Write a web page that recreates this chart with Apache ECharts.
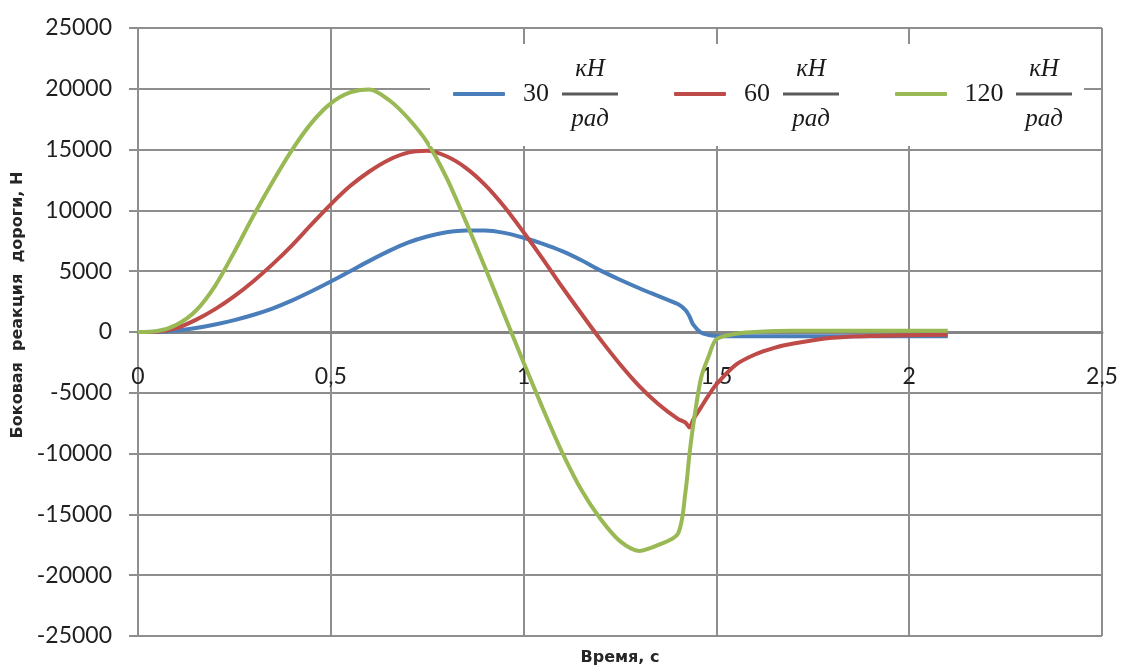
<!DOCTYPE html>
<html>
<head>
<meta charset="utf-8">
<title>Боковая реакция дороги</title>
<script src="https://cdn.jsdelivr.net/npm/echarts@6/dist/echarts.min.js"></script>
<style>
  html, body { margin: 0; padding: 0; background: #fff; }
  #chart { width: 1123px; height: 669px; }
</style>
</head>
<body>
<div id="chart"></div>
<script>
// Время, с
const times = [0, 0.05, 0.1, 0.15, 0.2, 0.25, 0.3, 0.35, 0.4, 0.45, 0.5, 0.55, 0.6, 0.65, 0.7, 0.75,
  0.8, 0.85, 0.9, 0.95, 1.0, 1.05, 1.1, 1.15, 1.2, 1.25, 1.3, 1.35, 1.4, 1.42, 1.43, 1.44, 1.46,
  1.48, 1.5, 1.55, 1.6, 1.65, 1.7, 1.8, 1.9, 2.0, 2.1];

// Боковая реакция, Н — по жёсткости 30, 60, 120 кН/рад
const vals30 = [0, 30, 130, 330, 620, 980, 1420, 1950, 2600, 3350, 4150, 5000, 5850, 6650, 7350, 7850,
  8200, 8350, 8350, 8150, 7750, 7250, 6650, 5900, 5050, 4300, 3600, 2950, 2300, 1800, 1300, 600, -50,
  -250, -320, -350, -350, -350, -350, -350, -350, -350, -350];
const vals60 = [0, 30, 330, 1000, 1880, 2950, 4200, 5600, 7150, 8850, 10500, 12000, 13200, 14150, 14750, 14900,
  14450, 13500, 12100, 10300, 8200, 6000, 3700, 1500, -650, -2650, -4450, -5950, -7150, -7450, -7850, -7200, -6200,
  -5200, -4300, -2700, -1850, -1300, -950, -480, -330, -260, -220];
const vals120 = [0, 80, 600, 1750, 3800, 6600, 9600, 12400, 15000, 17200, 18800, 19700, 19950, 19100, 17600, 15600,
  12700, 9100, 5300, 1400, -2500, -6300, -9900, -13000, -15400, -17200, -18000, -17500, -16600, -13100, -10100, -7650, -3800,
  -2000, -600, -150, 0, 80, 100, 100, 100, 100, 100];

const seriesNames = ["30", "60", "120"];
const seriesValues = [vals30, vals60, vals120];
const seriesColors = ["#4a7ebb", "#be4b48", "#98b954"];

// Оси
const xMin = 0, xMax = 2.5, xStep = 0.5;
const yMin = -25000, yMax = 25000, yStep = 5000;

const gridColor = "#8e8e8e";

// Подпись легенды: число + дробь кН/рад
function legendText(name) {
  const k = name.length > 2 ? "3" : "2";
  return "{a" + k + "|}{t|кН}\n{n" + k + "|" + name + "}{b|}\n{a" + k + "|}{t|рад}";
}

const chart = echarts.init(document.getElementById("chart"), null, { renderer: "canvas" });

const option = {
  animation: false,
  backgroundColor: "#ffffff",
  grid: { left: 138, right: 21, top: 28, bottom: 33, containLabel: false, outerBoundsMode: "none" },
  legend: {
    data: seriesNames,
    left: 430,
    top: 44,
    padding: [12, 12, 14, 23],
    itemGap: 56,
    itemWidth: 52,
    itemHeight: 4,
    icon: "roundRect",
    backgroundColor: "#ffffff",
    formatter: legendText,
    textStyle: {
      fontFamily: "Liberation Serif",
      fontSize: 26,
      color: "#1a1a1a",
      rich: {
        a2: { width: 52 },
        a3: { width: 64 },
        n2: { width: 52, align: "center", fontFamily: "Liberation Serif", fontSize: 26, lineHeight: 24, color: "#1a1a1a" },
        n3: { width: 64, align: "center", fontFamily: "Liberation Serif", fontSize: 26, lineHeight: 24, color: "#1a1a1a" },
        t: { width: 56, align: "center", fontFamily: "Liberation Serif", fontStyle: "italic", fontSize: 25, lineHeight: 22, color: "#1a1a1a" },
        b: { width: 56, height: 3, backgroundColor: "#5a5a5a" }
      }
    }
  },
  xAxis: {
    type: "value",
    min: xMin,
    max: xMax,
    interval: xStep,
    name: "Время, с",
    nameLocation: "middle",
    nameGap: 14,
    nameTextStyle: { fontFamily: "DejaVu Sans", fontWeight: "bold", fontSize: 16, color: "#262626" },
    axisLine: { onZero: true, lineStyle: { color: "#858585", width: 3 } },
    axisTick: { show: false },
    axisLabel: {
      margin: -271,
      fontFamily: "Lato",
      fontSize: 23,
      color: "#1f1f1f",
      formatter: (v) => String(v).replace(".", ",")
    },
    splitLine: { show: true, lineStyle: { color: gridColor, width: 2 } }
  },
  yAxis: {
    type: "value",
    min: yMin,
    max: yMax,
    interval: yStep,
    name: "Боковая  реакция  дороги, Н",
    nameLocation: "middle",
    nameGap: 110,
    nameTextStyle: {
      fontFamily: "DejaVu Sans", fontWeight: "bold", fontSize: 16, color: "#262626",
      padding: [0, 0, 0, 54]
    },
    axisLine: { show: true, onZero: false, lineStyle: { color: gridColor, width: 2 } },
    axisTick: { show: true, length: 9, lineStyle: { color: gridColor, width: 2 } },
    axisLabel: {
      margin: 26, fontFamily: "Lato", fontSize: 23, color: "#1f1f1f",
      formatter: (v) => String(v)
    },
    splitLine: { show: true, lineStyle: { color: gridColor, width: 2 } }
  },
  series: seriesNames.map((name, i) => ({
    name: name,
    type: "line",
    data: times.map((t, j) => [t, seriesValues[i][j]]),
    symbol: "none",
    smooth: 0.3,
    color: seriesColors[i],
    lineStyle: { width: 4, color: seriesColors[i] },
    emphasis: { disabled: true }
  }))
};

chart.setOption(option);
window.addEventListener("resize", chart.resize);
</script>
</body>
</html>
